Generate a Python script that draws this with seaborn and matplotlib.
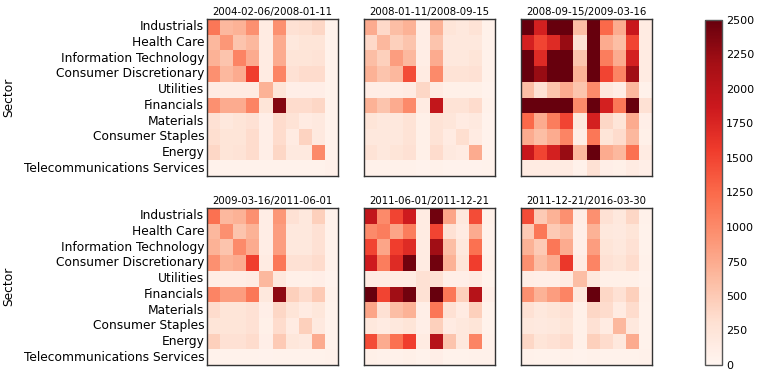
import numpy as np
import pandas as pd
import matplotlib
matplotlib.use("Agg")
import matplotlib.pyplot as plt
import seaborn as sns

sectors = ["Industrials", "Health Care", "Information Technology",
           "Consumer Discretionary", "Utilities", "Financials", "Materials",
           "Consumer Staples", "Energy", "Telecommunications Services"]

periods = ["2004-02-06/2008-01-11", "2008-01-11/2008-09-15", "2008-09-15/2009-03-16",
           "2009-03-16/2011-06-01", "2011-06-01/2011-12-21", "2011-12-21/2016-03-30"]

# covariance matrices (rows/cols in sector order)
cov_2004_2008 = [
    [1150, 650, 700, 950, 150, 950, 300, 330, 400, 50],
    [650, 900, 550, 650, 150, 750, 200, 250, 250, 50],
    [700, 550, 1050, 750, 150, 750, 250, 250, 280, 50],
    [950, 650, 750, 1550, 150, 1050, 300, 350, 350, 50],
    [150, 150, 150, 150, 700, 250, 100, 100, 100, 50],
    [950, 750, 750, 1050, 250, 2350, 350, 350, 400, 50],
    [300, 200, 250, 300, 100, 350, 280, 150, 180, 50],
    [330, 250, 250, 350, 100, 350, 150, 420, 180, 50],
    [400, 250, 280, 350, 100, 400, 180, 180, 1000, 50],
    [50, 50, 50, 50, 50, 50, 50, 50, 50, 70],
]
cov_2008_a = [
    [750, 380, 600, 700, 120, 700, 250, 200, 280, 60],
    [380, 650, 450, 550, 120, 550, 200, 200, 200, 60],
    [600, 450, 850, 650, 120, 750, 200, 200, 250, 60],
    [700, 550, 650, 1450, 150, 1000, 280, 280, 300, 60],
    [120, 120, 120, 150, 400, 150, 80, 80, 80, 40],
    [700, 550, 750, 1000, 150, 1950, 280, 280, 350, 60],
    [250, 200, 200, 280, 80, 280, 230, 150, 180, 40],
    [200, 200, 200, 280, 80, 280, 150, 330, 150, 40],
    [280, 200, 250, 300, 80, 350, 180, 150, 750, 40],
    [60, 60, 60, 60, 40, 60, 40, 40, 40, 50],
]
cov_2008_2009 = [
    [2600, 1800, 2500, 2600, 600, 2700, 1250, 750, 1900, 150],
    [1800, 1500, 1700, 2250, 300, 2600, 750, 600, 1500, 150],
    [2600, 1700, 2500, 2600, 550, 2700, 1100, 750, 1800, 150],
    [2600, 2250, 2600, 2600, 700, 2700, 1500, 1050, 2200, 150],
    [600, 300, 550, 750, 550, 1000, 200, 120, 650, 60],
    [2700, 2600, 2700, 2700, 1000, 2800, 1800, 1150, 2600, 300],
    [1250, 750, 1100, 1500, 200, 1800, 400, 250, 750, 100],
    [750, 600, 750, 1050, 120, 1150, 250, 350, 650, 80],
    [1900, 1500, 1800, 2250, 650, 2600, 750, 650, 1200, 150],
    [150, 150, 150, 150, 60, 300, 100, 80, 150, 100],
]
cov_2009_2011 = [
    [1200, 650, 700, 950, 120, 900, 300, 200, 450, 60],
    [650, 950, 550, 700, 120, 850, 200, 200, 300, 60],
    [700, 550, 1000, 750, 120, 850, 200, 200, 300, 60],
    [950, 700, 750, 1550, 150, 1150, 300, 300, 350, 60],
    [120, 120, 120, 150, 650, 200, 80, 80, 100, 40],
    [1050, 850, 850, 1150, 200, 2300, 450, 350, 500, 60],
    [350, 250, 250, 300, 100, 400, 250, 150, 220, 50],
    [250, 250, 250, 300, 80, 350, 150, 450, 180, 50],
    [450, 300, 300, 350, 100, 500, 220, 180, 750, 50],
    [50, 50, 50, 50, 40, 50, 50, 50, 50, 60],
]
cov_2011 = [
    [1950, 1000, 1500, 1850, 150, 2450, 800, 200, 1450, 80],
    [1000, 1100, 800, 1100, 150, 1500, 300, 150, 750, 60],
    [1500, 800, 1550, 1700, 150, 2200, 600, 200, 1200, 60],
    [1850, 1100, 1700, 2450, 150, 2450, 700, 250, 1550, 80],
    [150, 150, 150, 150, 300, 300, 100, 100, 150, 50],
    [2500, 1500, 2200, 2450, 300, 2500, 1150, 450, 2050, 100],
    [800, 300, 600, 700, 100, 1150, 300, 150, 450, 50],
    [200, 150, 200, 250, 100, 450, 150, 200, 250, 50],
    [1450, 750, 1200, 1550, 150, 2050, 550, 200, 1050, 60],
    [80, 60, 60, 80, 50, 100, 50, 50, 60, 60],
]
cov_2011_2016 = [
    [1450, 500, 700, 950, 120, 950, 300, 200, 400, 60],
    [500, 1150, 500, 600, 100, 700, 200, 180, 250, 50],
    [700, 500, 1150, 750, 100, 850, 250, 200, 300, 50],
    [950, 600, 750, 1600, 150, 1050, 300, 250, 350, 60],
    [120, 100, 100, 150, 600, 200, 80, 80, 80, 40],
    [950, 700, 850, 1050, 200, 2500, 400, 300, 450, 60],
    [300, 200, 250, 300, 80, 400, 350, 150, 350, 50],
    [200, 180, 200, 250, 80, 300, 150, 650, 200, 50],
    [400, 250, 300, 350, 80, 450, 350, 200, 750, 50],
    [60, 50, 50, 60, 40, 60, 50, 50, 50, 60],
]

matrices = [cov_2004_2008, cov_2008_a, cov_2008_2009,
            cov_2009_2011, cov_2011, cov_2011_2016]

sns.set_style("white")
plt.rcParams["font.family"] = ["DejaVu Sans"]
plt.rcParams["text.color"] = "black"
plt.rcParams["axes.labelcolor"] = "black"
plt.rcParams["xtick.color"] = "black"
plt.rcParams["ytick.color"] = "black"

fig = plt.figure(figsize=(7.64, 3.78), dpi=100)

lefts = [207 / 764, 364 / 764, 521 / 764]
bottoms = [1 - 176 / 378, 1 - 365 / 378]
w = 131 / 764
h = 157 / 378

cax = fig.add_axes([705 / 764, 1 - 365 / 378, 17 / 764, 345 / 378])

cb = None
for i, (period, m) in enumerate(zip(periods, matrices)):
    r, c = divmod(i, 3)
    ax = fig.add_axes([lefts[c], bottoms[r], w, h])
    df = pd.DataFrame(m, index=sectors, columns=sectors)
    sns.heatmap(df, ax=ax, cmap="Reds", vmin=0, vmax=2500,
                cbar=(i == 0), cbar_ax=cax if i == 0 else None,
                xticklabels=False, yticklabels=True)
    if i == 0:
        cb = ax.collections[0].colorbar
    ax.set_title(period, fontsize=7.3, pad=3)
    for s in ax.spines.values():
        s.set_visible(True)
        s.set_color("#333333")
        s.set_linewidth(1.0)
    ax.tick_params(axis="y", which="both", direction="in", left=True, right=True,
                   length=3.5, width=0.7, labelsize=8.8, pad=2, color="#222222",
                   labelleft=(c == 0))
    ax.tick_params(axis="x", bottom=False, top=False)
    if c == 0:
        ax.set_yticklabels(sectors, rotation=0)
        ax.set_ylabel("Sector", fontsize=8.8)
        ax.yaxis.set_label_coords(-1.46, 0.5)
    else:
        ax.set_ylabel("")

cb.set_ticks([0, 250, 500, 750, 1000, 1250, 1500, 1750, 2000, 2250, 2500])
cb.outline.set_visible(True)
cb.outline.set_edgecolor("#555555")
cb.outline.set_linewidth(1.0)
cax.tick_params(labelsize=8, length=3, width=0.6, direction="in", color="#222222", pad=3)

fig.savefig("out.png", dpi=100)
